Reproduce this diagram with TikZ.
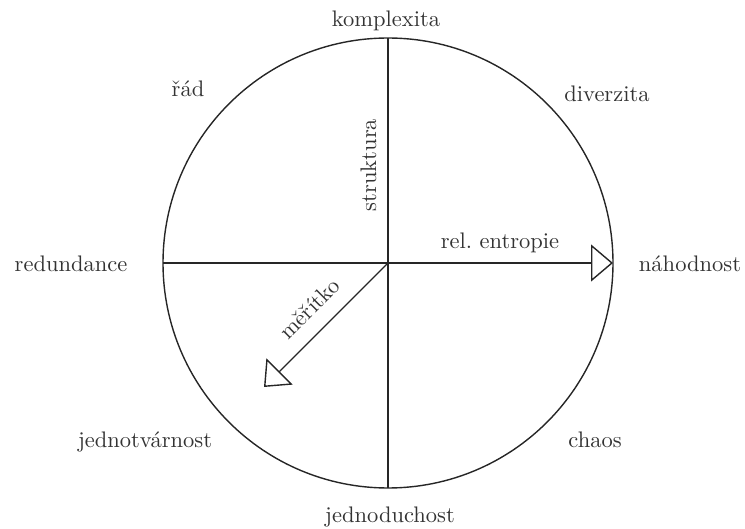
\documentclass[tikz,border=0pt]{standalone}
\usepackage{graphicx}
\usetikzlibrary{arrows.meta}
\begin{document}
\begin{tikzpicture}[x=1pt,y=-1pt,
  ln/.style={line width=1.4pt, black!85},
  arr/.style={ln, -{Triangle[open, length=22pt, width=37pt, line width=1.4pt]}},
  lbl/.style={inner sep=0pt, anchor=base, scale=2.25, transform shape, text=black!80}]
\useasboundingbox (0,0) rectangle (745,529);
\coordinate (C) at (388,263);
\coordinate (T) at (388,38);
\coordinate (B) at (388,488);
\coordinate (L) at (163,263);
\coordinate (R) at (613,263);
\coordinate (D) at (264,387);
\draw[ln] (C) circle[radius=225];
\draw[ln] (T) -- (B);
\draw[ln] (L) -- (C);
\draw[arr] (C) -- (R);
\draw[arr] (C) -- (D);
\node[lbl] (komplexita) at (386,27) {komplexita};
\node[lbl] (jednoduchost) at (390,522) {jednoduchost};
\node[lbl] (redundance) at (71,272) {redundance};
\node[lbl] (nahodnost) at (690,272) {náhodnost};
\node[lbl] (rad) at (188,97) {řád};
\node[lbl] (diverzita) at (607,102) {diverzita};
\node[lbl] (jednotvarnost) at (145,448) {jednotvárnost};
\node[lbl] (chaos) at (595,448) {chaos};
\node[lbl] (entropie) at (500,249) {rel.\ entropie};
\node[lbl, rotate=90] (struktura) at (376,165) {struktura};
\node[lbl, rotate=45] (meritko) at (315,314) {měřítko};
\end{tikzpicture}
\end{document}
